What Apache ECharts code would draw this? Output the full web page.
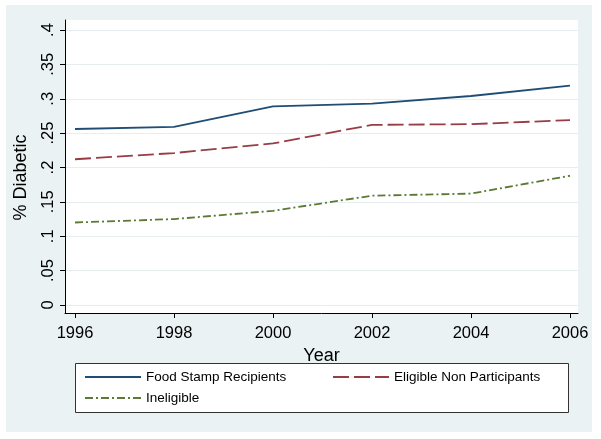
<!DOCTYPE html>
<html>
<head>
<meta charset="utf-8">
<script src="https://cdn.jsdelivr.net/npm/echarts@6/dist/echarts.min.js"></script>
<style>
html,body{margin:0;padding:0;background:#ffffff;}
#chart{width:601px;height:439px;}
</style>
</head>
<body>
<div id="chart"></div>
<script>
// ---- data ----
var years = [1996, 1998, 2000, 2002, 2004, 2006];
var foodStamp = [0.256, 0.259, 0.289, 0.293, 0.304, 0.319];
var eligibleNon = [0.212, 0.221, 0.235, 0.262, 0.263, 0.269];
var ineligible = [0.120, 0.125, 0.137, 0.159, 0.162, 0.188];
var seriesNames = ['Food Stamp Recipients', 'Eligible Non Participants', 'Ineligible'];
var yTicks = [0, 0.05, 0.1, 0.15, 0.2, 0.25, 0.3, 0.35, 0.4];
var xTicks = [1996, 1998, 2000, 2002, 2004, 2006];

function pairs(vals){ return years.map(function(y,i){ return [y, vals[i]]; }); }

var FONT = 'Liberation Sans, Arial, Helvetica, sans-serif';
var chart = echarts.init(document.getElementById('chart'), null, {renderer:'canvas'});

// plot region (white) and axis scale anchors
var gl = 65, gr = 578, gt = 20, gb = 313;
var y0px = 305, y4px = 30;               // pixel rows of 0 and .4
var pxPerUnit = (y0px - y4px) / 0.4;
var x96 = 75, x06 = 570;
var pxPerYear = (x06 - x96) / 10;

var yMin = -(gb - y0px) / pxPerUnit;
var yMax = 0.4 + (y4px - gt) / pxPerUnit;
var xMin = 1996 - (x96 - gl) / pxPerYear;
var xMax = 2006 + (gr - x06) / pxPerYear;

var colors = ['#1f4d75', '#983c45', '#5a7a36'];
var dashes = ['solid', [16, 5], [8, 3, 2, 3]];
var seriesData = [foodStamp, eligibleNon, ineligible];

var series = seriesNames.map(function(n, i){
  return {
    name: n, type: 'line', data: pairs(seriesData[i]),
    symbol: 'none', silent: true, animation: false,
    lineStyle: {color: colors[i], width: 1.8, type: dashes[i]},
    itemStyle: {color: colors[i]}
  };
});

var legendPos = [[84, 370], [332, 370], [84, 391]];
var legends = seriesNames.map(function(n, i){
  return {
    data: [n], left: legendPos[i][0], top: legendPos[i][1],
    padding: 0, itemWidth: 56, itemHeight: 14, selectedMode: false,
    itemStyle: {color: 'rgba(0,0,0,0)', borderColor: 'rgba(0,0,0,0)', borderWidth: 0, opacity: 0},
    textStyle: {fontFamily: FONT, fontSize: 13.5, color: '#000'}
  };
});

chart.setOption({
  animation: false,
  backgroundColor: '#ffffff',
  color: colors,
  graphic: [
    {type: 'rect', shape: {x: 6, y: 5, width: 586, height: 427}, style: {fill: '#eaf2f3'}, z: -10, silent: true},
    {type: 'rect', shape: {x: gl, y: gt, width: gr - gl, height: gb - gt}, style: {fill: '#ffffff'}, z: -9, silent: true},
    {type: 'rect', shape: {x: 75.5, y: 363.5, width: 493, height: 49}, style: {fill: '#ffffff', stroke: '#333333', lineWidth: 1}, z: -8, silent: true}
  ],
  grid: {left: gl, right: 601 - gr, top: gt, bottom: 439 - gb, containLabel: false},
  xAxis: {
    type: 'value', min: xMin, max: xMax,
    name: 'Year', nameLocation: 'middle', nameGap: 31,
    nameTextStyle: {fontFamily: FONT, fontSize: 18, color: '#000'},
    axisLine: {show: true, onZero: false, lineStyle: {color: '#000', width: 1}},
    axisTick: {show: true, length: 5, inside: false, customValues: xTicks, lineStyle: {color: '#000'}},
    axisLabel: {customValues: xTicks, margin: 12, fontFamily: FONT, fontSize: 16.5, color: '#000',
      formatter: function(v){ return String(Math.round(v)); }},
    splitLine: {show: false}
  },
  yAxis: {
    type: 'value', min: yMin, max: yMax,
    name: '% Diabetic', nameLocation: 'middle', nameGap: 35, nameRotate: 90,
    nameTextStyle: {fontFamily: FONT, fontSize: 18, color: '#000', padding: [0, 22, 0, 0]},
    axisLine: {show: true, onZero: false, lineStyle: {color: '#000', width: 1}},
    axisTick: {show: true, length: 5, inside: false, customValues: yTicks, lineStyle: {color: '#000'}},
    axisLabel: {customValues: yTicks, rotate: 90, margin: 8, fontFamily: FONT, fontSize: 16.5, color: '#000',
      formatter: function(v){ if (Math.abs(v) < 1e-9) return '0'; return String(+v.toFixed(2)).replace(/^0/, ''); }},
    splitLine: {show: true, lineStyle: {color: '#e6eef0', width: 1}}
  },
  legend: legends,
  series: series
});
</script>
</body>
</html>
